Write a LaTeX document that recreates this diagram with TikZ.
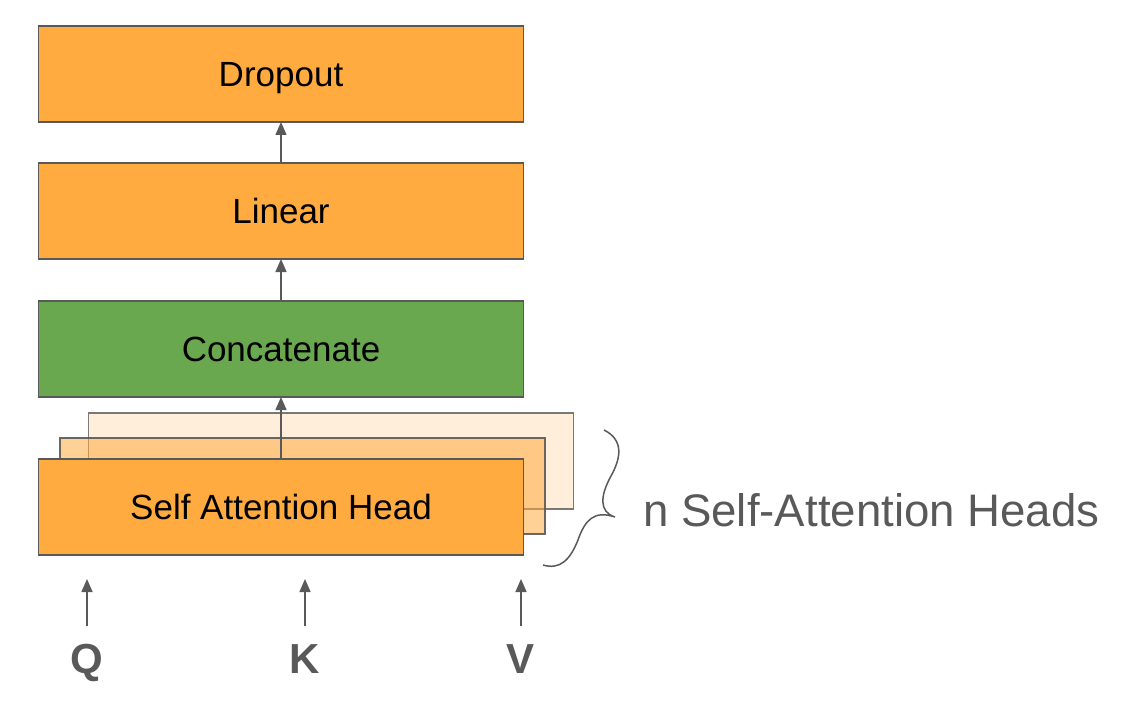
\documentclass[tikz,border=0pt]{standalone}
\usepackage{fontspec}
\setmainfont{Liberation Sans}
\usetikzlibrary{arrows.meta}
\definecolor{orng}{HTML}{FFAB40}
\definecolor{grn}{HTML}{6AA84F}
\definecolor{edge}{HTML}{595959}
\begin{document}
\begin{tikzpicture}[x=1pt,y=-1pt,
  blk/.style={draw=edge, line width=1.5pt, minimum width=485pt, minimum height=96pt, inner sep=0pt, outer sep=0pt, text height=25pt, text depth=0pt, font=\fontsize{35}{42}\selectfont, text=black},
  arr/.style={draw=edge, line width=1.5pt, -{Triangle[length=13pt,width=11pt]}},
  lbl/.style={text=edge, font=\fontsize{42}{50}\selectfont\bfseries, inner sep=0pt, anchor=base}]
\useasboundingbox (0,0) rectangle (1137,706);
% stacked heads
\node[blk, draw opacity=0.8, fill=orng, fill opacity=0.2, text opacity=1] (back2) at (331,461) {};
\node[blk, draw opacity=0.9, fill=orng, fill opacity=0.55, text opacity=1] (back1) at (302.5,486) {};
\node[blk, fill=orng] (head) at (281,507) {Self Attention Head};
% upper blocks
\node[blk, fill=grn] (concat) at (281,349) {Concatenate};
\node[blk, fill=orng] (linear) at (281,211) {Linear};
\node[blk, fill=orng] (drop) at (281,74) {Dropout};
\draw[arr] (head.north) -- (concat.south);
\draw[arr] (concat.north) -- (linear.south);
\draw[arr] (linear.north) -- (drop.south);
% inputs
\node[lbl] (Q) at (87,673) {Q};
\node[lbl] (K) at (305,673) {K};
\node[lbl] (V) at (520,673) {V};
\coordinate (qs) at (87,626); \coordinate (qe) at (87,579);
\coordinate (ks) at (305,626); \coordinate (ke) at (305,579);
\coordinate (vs) at (521,626); \coordinate (ve) at (521,579);
\draw[arr] (qs) -- (qe);
\draw[arr] (ks) -- (ke);
\draw[arr] (vs) -- (ve);
% brace
\coordinate (bt) at (604,430);
\coordinate (bm) at (615,517);
\coordinate (bb) at (543,565);
\draw[edge, line width=1.5pt] (bt) .. controls (624,440) and (621,458) .. (611,476)
  .. controls (600,496) and (599,512) .. (bm)
  .. controls (594,510) and (585,520) .. (578,540)
  .. controls (570,560) and (560,570) .. (bb);
\node[anchor=west, text=edge, font=\fontsize{45.6}{54}\selectfont, inner sep=0pt] (nh) at (643,510) {n Self-Attention Heads};
\end{tikzpicture}
\end{document}
